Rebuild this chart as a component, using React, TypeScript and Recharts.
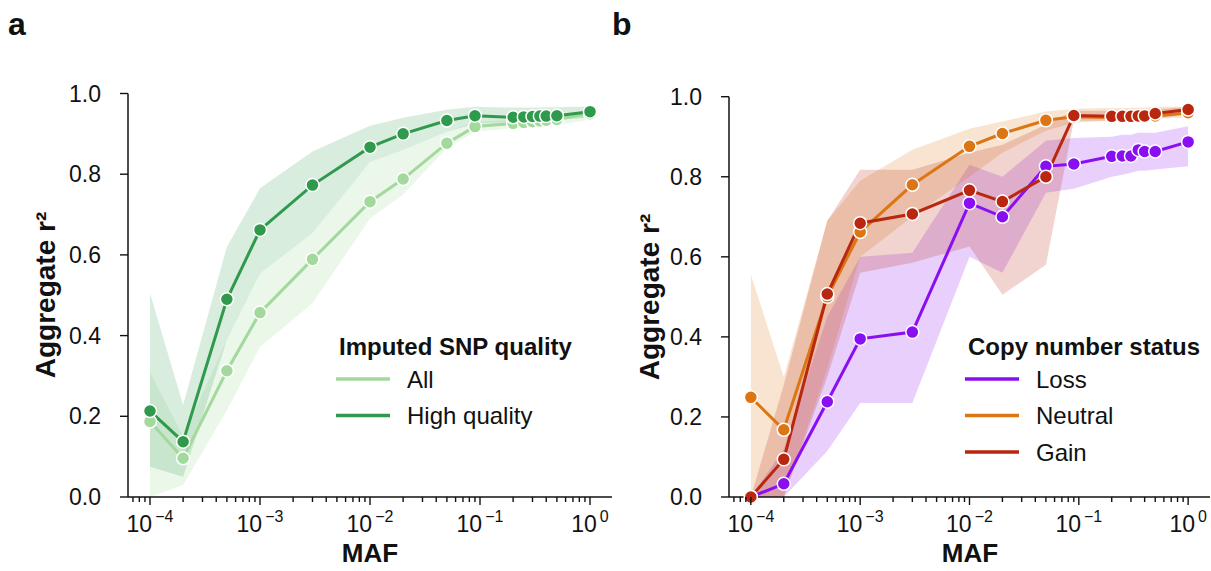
import React from "react";
import { ComposedChart, Line, Area, XAxis, YAxis } from "recharts";

// MAF bins (shared by both panels)
const MAF = [1e-4, 2e-4, 5e-4, 1e-3, 3e-3, 1e-2, 2e-2, 5e-2, 9e-2, 0.2, 0.25, 0.3, 0.35, 0.4, 0.5, 1.0];

// panel a
const ALL_R2 = [0.187, 0.096, 0.313, 0.457, 0.589, 0.732, 0.788, 0.877, 0.918, 0.926, 0.928, 0.93, 0.932, 0.934, 0.936, 0.95];
const ALL_LO = [0.0, 0.03, 0.215, 0.372, 0.48, 0.69, 0.75, 0.865, 0.905, 0.915, 0.917, 0.918, 0.92, 0.92, 0.922, 0.935];
const ALL_HI = [0.31, 0.15, 0.39, 0.554, 0.654, 0.83, 0.86, 0.905, 0.93, 0.935, 0.935, 0.937, 0.937, 0.94, 0.94, 0.955];
const HQ_R2 = [0.213, 0.137, 0.49, 0.662, 0.773, 0.867, 0.9, 0.933, 0.945, 0.941, 0.942, 0.943, 0.944, 0.944, 0.945, 0.955];
const HQ_LO = [0.075, 0.05, 0.39, 0.554, 0.654, 0.83, 0.86, 0.905, 0.925, 0.93, 0.93, 0.93, 0.932, 0.932, 0.935, 0.94];
const HQ_HI = [0.505, 0.228, 0.62, 0.765, 0.856, 0.92, 0.94, 0.96, 0.967, 0.965, 0.965, 0.965, 0.965, 0.966, 0.966, 0.968];

// panel b
const LOSS_R2 = [0.0, 0.033, 0.238, 0.395, 0.412, 0.734, 0.7, 0.826, 0.832, 0.851, 0.852, 0.852, 0.867, 0.863, 0.863, 0.887];
const LOSS_LO = [0.0, 0.0, 0.115, 0.235, 0.235, 0.6, 0.56, 0.76, 0.77, 0.8, 0.805, 0.81, 0.815, 0.815, 0.818, 0.826];
const LOSS_HI = [0.0, 0.12, 0.45, 0.6, 0.61, 0.83, 0.8, 0.89, 0.897, 0.9, 0.905, 0.905, 0.91, 0.91, 0.91, 0.926];
const NEUTRAL_R2 = [0.249, 0.168, 0.5, 0.662, 0.78, 0.876, 0.908, 0.941, 0.95, 0.948, 0.948, 0.949, 0.95, 0.95, 0.952, 0.96];
const NEUTRAL_LO = [0.0, 0.0, 0.32, 0.6, 0.7, 0.8, 0.86, 0.915, 0.935, 0.94, 0.94, 0.94, 0.942, 0.942, 0.945, 0.948];
const NEUTRAL_HI = [0.555, 0.3, 0.69, 0.79, 0.8675, 0.92, 0.938, 0.963, 0.97, 0.972, 0.972, 0.972, 0.973, 0.973, 0.975, 0.975];
const GAIN_R2 = [0.0, 0.094, 0.507, 0.684, 0.707, 0.766, 0.738, 0.8, 0.953, 0.951, 0.951, 0.951, 0.952, 0.952, 0.958, 0.968];
const GAIN_LO = [0.0, 0.0, 0.3, 0.56, 0.585, 0.626, 0.505, 0.58, 0.94, 0.94, 0.94, 0.94, 0.942, 0.942, 0.945, 0.955];
const GAIN_HI = [0.0, 0.28, 0.69, 0.8175, 0.8175, 0.86, 0.88, 0.93, 0.965, 0.965, 0.965, 0.965, 0.966, 0.966, 0.968, 0.975];

const Y_TICKS = [0, 0.2, 0.4, 0.6, 0.8, 1.0];
const X_MAJOR = [1e-4, 1e-3, 1e-2, 1e-1, 1];
const X_DOMAIN = [Math.pow(10, -4.2), Math.pow(10, 0.2)];

const C_ALL = "#a3d99d";
const C_HQ = "#2f9a4c";
const C_LOSS = "#8a0ef2";
const C_NEUTRAL = "#dc7612";
const C_GAIN = "#b8270e";

const FONT = "'Liberation Sans', Arial, sans-serif";
const INK = "#111";

// minor ticks 2..9 x 10^k inside the domain
const X_TICKS: number[] = [];
for (let k = -5; k <= 0; k++) {
  for (let m = 1; m <= 9; m++) {
    const v = m * Math.pow(10, k);
    if (v >= X_DOMAIN[0] && v <= X_DOMAIN[1]) X_TICKS.push(v);
  }
}

const rowsA = MAF.map((x, i) => ({
  x,
  all: ALL_R2[i],
  hq: HQ_R2[i],
  allBand: [ALL_LO[i], ALL_HI[i]],
  hqBand: [HQ_LO[i], HQ_HI[i]],
}));

const rowsB = MAF.map((x, i) => ({
  x,
  loss: LOSS_R2[i],
  neutral: NEUTRAL_R2[i],
  gain: GAIN_R2[i],
  lossBand: [LOSS_LO[i], LOSS_HI[i]],
  neutralBand: [NEUTRAL_LO[i], NEUTRAL_HI[i]],
  gainBand: [GAIN_LO[i], GAIN_HI[i]],
}));

function LogTick(props: any) {
  const { x, y, payload } = props;
  const lg = Math.log10(payload.value);
  const e = Math.round(lg);
  const major = X_MAJOR.some((m) => Math.abs(Math.log10(m) - lg) < 1e-6);
  const ay = y - 8; // tickSize + tickMargin
  return (
    <g>
      <line x1={x} x2={x} y1={ay} y2={ay + (major ? 8 : 5)} stroke={INK} strokeWidth={1.4} />
      {major && (
        <text x={x} y={ay + 35} textAnchor="middle" fontSize={23} fill={INK}>
          10
          <tspan dx={3} dy={-10} fontSize={16}>
            {e === 0 ? "0" : "\u2212" + Math.abs(e)}
          </tspan>
        </text>
      )}
    </g>
  );
}

type Band = { key: string; color: string; opacity: number };
type Series = { key: string; color: string; label?: string };

function Panel({ rows, bands, lines, width, margin }: { rows: any[]; bands: Band[]; lines: Series[]; width: number; margin: any }) {
  return (
    <ComposedChart width={width} height={571} data={rows} margin={margin}>
      <XAxis
        type="number"
        dataKey="x"
        scale="log"
        domain={X_DOMAIN}
        allowDataOverflow
        ticks={X_TICKS}
        interval={0}
        tick={<LogTick />}
        tickLine={false}
        tickSize={6}
        tickMargin={2}
        height={30}
        axisLine={{ stroke: INK, strokeWidth: 1.5 }}
      />
      <YAxis
        type="number"
        domain={[0, 1]}
        ticks={Y_TICKS}
        tickFormatter={(v: number) => v.toFixed(1)}
        width={60}
        tickSize={8}
        tickMargin={19}
        tick={{ fontSize: 23, fill: INK }}
        tickLine={{ stroke: INK, strokeWidth: 1.4 }}
        axisLine={{ stroke: INK, strokeWidth: 1.5 }}
      />
      {bands.map((b) => (
        <Area
          key={b.key}
          type="linear"
          dataKey={b.key}
          stroke="none"
          fill={b.color}
          fillOpacity={b.opacity}
          dot={false}
          activeDot={false}
          isAnimationActive={false}
        />
      ))}
      {lines.map((s) => (
        <Line
          key={s.key}
          type="linear"
          dataKey={s.key}
          stroke={s.color}
          strokeWidth={3}
          dot={{ r: 6.5, fill: s.color, stroke: "#fff", strokeWidth: 1.5, fillOpacity: 1 }}
          activeDot={false}
          isAnimationActive={false}
        />
      ))}
    </ComposedChart>
  );
}

function LegendBlock({ x, y, title, items }: { x: number; y: number; title: string; items: Series[] }) {
  return (
    <g>
      <text x={x} y={y} fontSize={24} fontWeight="bold" fill={INK}>
        {title}
      </text>
      {items.map((it, i) => {
        const cy = y + 24 + i * 36.5;
        return (
          <g key={it.key}>
            <line x1={x - 3} x2={x + 51} y1={cy} y2={cy} stroke={it.color} strokeWidth={3.5} />
            <text x={x + 68} y={cy} dy="0.36em" fontSize={24} fill={INK}>
              {it.label}
            </text>
          </g>
        );
      })}
    </g>
  );
}

export default function App() {
  return (
    <div style={{ position: "absolute", left: 0, top: 0, width: 1211, height: 571, background: "#fff", fontFamily: FONT, overflow: "hidden" }}>
      <div style={{ position: "absolute", left: 0, top: 0 }}>
        <Panel
          rows={rowsA}
          width={620}
          margin={{ top: 93.5, right: 8, left: 68, bottom: 44 }}
          bands={[
            { key: "allBand", color: C_ALL, opacity: 0.22 },
            { key: "hqBand", color: C_HQ, opacity: 0.18 },
          ]}
          lines={[
            { key: "all", color: C_ALL },
            { key: "hq", color: C_HQ },
          ]}
        />
      </div>
      <div style={{ position: "absolute", left: 610, top: 0 }}>
        <Panel
          rows={rowsB}
          width={601}
          margin={{ top: 96.7, right: 1, left: 59, bottom: 44 }}
          bands={[
            { key: "lossBand", color: C_LOSS, opacity: 0.2 },
            { key: "neutralBand", color: C_NEUTRAL, opacity: 0.2 },
            { key: "gainBand", color: C_GAIN, opacity: 0.2 },
          ]}
          lines={[
            { key: "loss", color: C_LOSS },
            { key: "neutral", color: C_NEUTRAL },
            { key: "gain", color: C_GAIN },
          ]}
        />
      </div>
      <svg width={1211} height={571} style={{ position: "absolute", left: 0, top: 0, pointerEvents: "none" }}>
        <text x={8} y={35} fontSize={32} fontWeight="bold" fill={INK}>a</text>
        <text x={612} y={35} fontSize={32} fontWeight="bold" fill={INK}>b</text>

        <text transform="translate(55,295) rotate(-90)" textAnchor="middle" fontSize={28} fontWeight="bold" fill={INK}>
          Aggregate r²
        </text>
        <text transform="translate(659,297) rotate(-90)" textAnchor="middle" fontSize={28} fontWeight="bold" fill={INK}>
          Aggregate r²
        </text>
        <text x={370} y={562} textAnchor="middle" fontSize={26} fontWeight="bold" fill={INK}>MAF</text>
        <text x={970} y={562} textAnchor="middle" fontSize={26} fontWeight="bold" fill={INK}>MAF</text>

        <LegendBlock
          x={339}
          y={355}
          title="Imputed SNP quality"
          items={[
            { key: "all", label: "All", color: C_ALL },
            { key: "hq", label: "High quality", color: C_HQ },
          ]}
        />
        <LegendBlock
          x={968}
          y={355}
          title="Copy number status"
          items={[
            { key: "loss", label: "Loss", color: C_LOSS },
            { key: "neutral", label: "Neutral", color: C_NEUTRAL },
            { key: "gain", label: "Gain", color: C_GAIN },
          ]}
        />
      </svg>
    </div>
  );
}
